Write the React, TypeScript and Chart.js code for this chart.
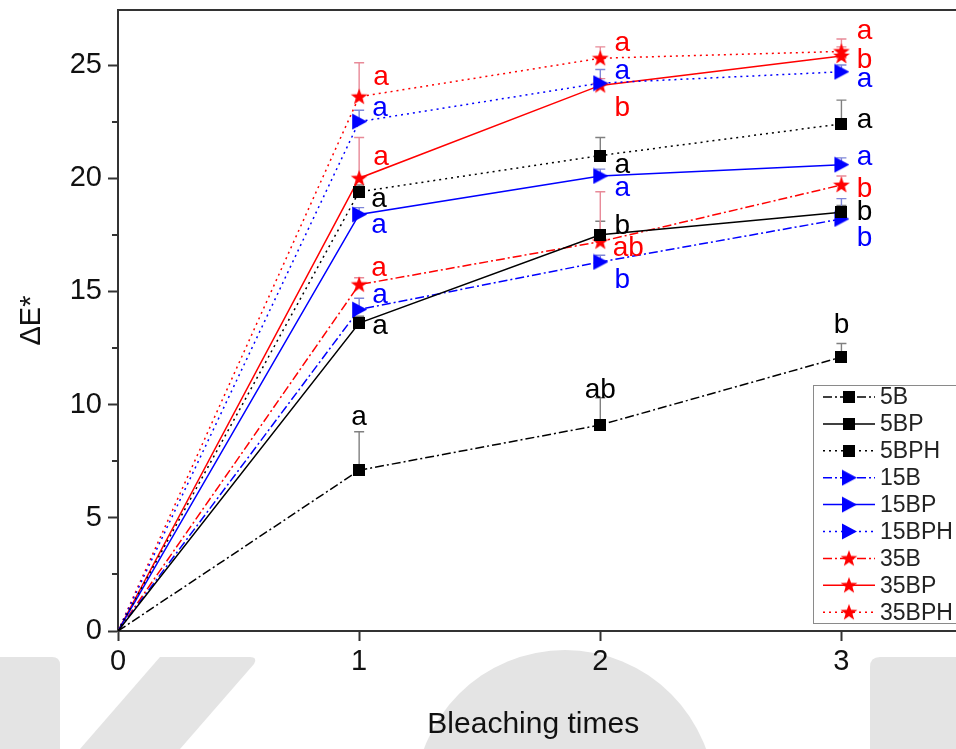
import React, { useEffect, useRef } from 'react';
import { Chart, registerables } from 'chart.js';

Chart.register(...registerables);

// ---------- data ----------
const xValues = [0, 1, 2, 3];
const seriesNames = ['5B', '5BP', '5BPH', '15B', '15BP', '15BPH', '35B', '35BP', '35BPH'];

const v5B = [0, 7.1, 9.1, 12.1];
const v5BP = [0, 13.6, 17.5, 18.5];
const v5BPH = [0, 19.4, 21.0, 22.4];
const v15B = [0, 14.2, 16.3, 18.2];
const v15BP = [0, 18.4, 20.1, 20.6];
const v15BPH = [0, 22.5, 24.2, 24.7];
const v35B = [0, 15.3, 17.2, 19.7];
const v35BP = [0, 20.0, 24.1, 25.4];
const v35BPH = [0, 23.6, 25.3, 25.6];

const e5B = [0, 1.7, 1.2, 0.6];
const e5BP = [0, 0.3, 0.6, 0.3];
const e5BPH = [0, 0.3, 0.8, 1.05];
const e15B = [0, 0.5, 0.3, 0.9];
const e15BP = [0, 0.3, 0.3, 0.3];
const e15BPH = [0, 0.5, 0.6, 0.3];
const e35B = [0, 0.3, 2.2, 0.4];
const e35BP = [0, 1.8, 0.3, 0.4];
const e35BPH = [0, 1.5, 0.5, 0.55];

const l5B = ['', 'a', 'ab', 'b'];
const l5BP = ['', 'a', 'b', 'b'];
const l5BPH = ['', 'a', 'a', 'a'];
const l15B = ['', 'a', 'b', 'b'];
const l15BP = ['', 'a', 'a', 'a'];
const l15BPH = ['', 'a', 'a', 'a'];
const l35B = ['', 'a', 'ab', 'b'];
const l35BP = ['', 'a', 'b', 'b'];
const l35BPH = ['', 'a', 'a', 'a'];

const yMajorTicks = [0, 5, 10, 15, 20, 25];
const yMinorTicks = [2.5, 7.5, 12.5, 17.5, 22.5];
const xTicks = [0, 1, 2, 3];

const xTitle = 'Bleaching times';
const yTitle = 'ΔE*';

// ---------- styles ----------
const FONT = "'Liberation Sans', Arial, sans-serif";
const BLACK = '#000000';
const BLUE = '#0000ff';
const RED = '#ff0000';
const ERR_BLACK = '#808080';
const ERR_BLUE = '#7f86d8';
const ERR_RED = '#e88a98';
const DASHDOT = [9, 3, 2, 3];
const DOT = [2, 4];
const SOLID: number[] = [];

// label offsets (px) relative to the marker, indices 1..3
const off5B = [[0, 0], [0, -53], [0, -37], [0, -34]];
const off5BP = [[0, 0], [21, 4], [22, -11], [23, -2]];
const off5BPH = [[0, 0], [20, 8], [22, 10], [23, -3]];
const off15B = [[0, 0], [21, -14], [22, 16], [23, 17]];
const off15BP = [[0, 0], [20, 11], [22, 13], [23, -7]];
const off15BPH = [[0, 0], [21, -13], [22, -11], [23, 8]];
const off35B = [[0, 0], [20, -16], [28, 4], [23, 2]];
const off35BP = [[0, 0], [22, -20], [22, 21], [23, 2]];
const off35BPH = [[0, 0], [22, -19], [22, -15], [23, -20]];

function makeMarker(kind: string, color: string): HTMLCanvasElement {
  const c = document.createElement('canvas');
  const g = c.getContext('2d') as CanvasRenderingContext2D;
  if (kind === 'square') {
    c.width = 12; c.height = 12;
    g.fillStyle = color;
    g.fillRect(0, 0, 12, 12);
  } else if (kind === 'triangle') {
    c.width = 16; c.height = 17;
    g.fillStyle = color;
    g.beginPath();
    g.moveTo(1, 0.5);
    g.lineTo(16, 8.5);
    g.lineTo(1, 16.5);
    g.closePath();
    g.fill();
  } else {
    c.width = 18; c.height = 18;
    g.fillStyle = color;
    g.beginPath();
    const cx = 9, cy = 9.5, R = 8.8, r = 3.6;
    for (let i = 0; i < 10; i++) {
      const ang = -Math.PI / 2 + (i * Math.PI) / 5;
      const rad = i % 2 === 0 ? R : r;
      const px = cx + rad * Math.cos(ang);
      const py = cy + rad * Math.sin(ang);
      if (i === 0) g.moveTo(px, py); else g.lineTo(px, py);
    }
    g.closePath();
    g.fill();
  }
  return c;
}

export default function App() {
  const ref = useRef<HTMLCanvasElement>(null);

  useEffect(() => {
    document.body.style.margin = '0';
    const canvas = ref.current;
    if (!canvas) return;

    const square = makeMarker('square', BLACK);
    const tri = makeMarker('triangle', BLUE);
    const star = makeMarker('star', RED);

    const series = [
      { name: seriesNames[0], v: v5B, e: e5B, l: l5B, off: off5B, color: BLACK, err: ERR_BLACK, dash: DASHDOT, marker: square },
      { name: seriesNames[1], v: v5BP, e: e5BP, l: l5BP, off: off5BP, color: BLACK, err: ERR_BLACK, dash: SOLID, marker: square },
      { name: seriesNames[2], v: v5BPH, e: e5BPH, l: l5BPH, off: off5BPH, color: BLACK, err: ERR_BLACK, dash: DOT, marker: square },
      { name: seriesNames[3], v: v15B, e: e15B, l: l15B, off: off15B, color: BLUE, err: ERR_BLUE, dash: DASHDOT, marker: tri },
      { name: seriesNames[4], v: v15BP, e: e15BP, l: l15BP, off: off15BP, color: BLUE, err: ERR_BLUE, dash: SOLID, marker: tri },
      { name: seriesNames[5], v: v15BPH, e: e15BPH, l: l15BPH, off: off15BPH, color: BLUE, err: ERR_BLUE, dash: DOT, marker: tri },
      { name: seriesNames[6], v: v35B, e: e35B, l: l35B, off: off35B, color: RED, err: ERR_RED, dash: DASHDOT, marker: star },
      { name: seriesNames[7], v: v35BP, e: e35BP, l: l35BP, off: off35BP, color: RED, err: ERR_RED, dash: SOLID, marker: star },
      { name: seriesNames[8], v: v35BPH, e: e35BPH, l: l35BPH, off: off35BPH, color: RED, err: ERR_RED, dash: DOT, marker: star },
    ];

    const overlay = {
      id: 'overlay',
      beforeDraw(chart: any) {
        const ctx = chart.ctx as CanvasRenderingContext2D;
        ctx.save();
        ctx.fillStyle = '#ffffff';
        ctx.fillRect(0, 0, chart.width, chart.height);
        // watermark shapes
        ctx.fillStyle = '#e4e4e4';
        ctx.beginPath();
        ctx.moveTo(0, 657);
        ctx.lineTo(52, 657);
        ctx.quadraticCurveTo(60, 657, 60, 665);
        ctx.lineTo(60, 749);
        ctx.lineTo(0, 749);
        ctx.closePath();
        ctx.fill();
        ctx.beginPath();
        ctx.moveTo(160, 657);
        ctx.lineTo(250, 657);
        ctx.quadraticCurveTo(258, 657, 254, 664);
        ctx.lineTo(180, 749);
        ctx.lineTo(80, 749);
        ctx.closePath();
        ctx.fill();
        ctx.beginPath();
        ctx.arc(565, 800, 150, 0, Math.PI * 2);
        ctx.fill();
        ctx.beginPath();
        ctx.moveTo(870, 749);
        ctx.lineTo(870, 667);
        ctx.quadraticCurveTo(870, 657, 880, 657);
        ctx.lineTo(956, 657);
        ctx.lineTo(956, 749);
        ctx.closePath();
        ctx.fill();
        ctx.restore();
      },
      beforeDatasetsDraw(chart: any) {
        const ctx = chart.ctx as CanvasRenderingContext2D;
        const ys = chart.scales.y;
        ctx.save();
        ctx.lineWidth = 1.4;
        series.forEach((s, i) => {
          const meta = chart.getDatasetMeta(i);
          ctx.strokeStyle = s.err;
          for (let j = 1; j < s.v.length; j++) {
            const pt = meta.data[j];
            const yTop = ys.getPixelForValue(s.v[j] + s.e[j]);
            ctx.beginPath();
            ctx.moveTo(pt.x, pt.y);
            ctx.lineTo(pt.x, yTop);
            ctx.moveTo(pt.x - 5, yTop);
            ctx.lineTo(pt.x + 5, yTop);
            ctx.stroke();
          }
        });
        ctx.restore();
      },
      afterDatasetsDraw(chart: any) {
        const ctx = chart.ctx as CanvasRenderingContext2D;
        const area = chart.chartArea;
        const ys = chart.scales.y;
        ctx.save();
        // letter labels
        const fs = 28;
        ctx.font = `${fs}px ${FONT}`;
        ctx.textAlign = 'center';
        ctx.textBaseline = 'alphabetic';
        series.forEach((s, i) => {
          const meta = chart.getDatasetMeta(i);
          ctx.fillStyle = s.color;
          for (let j = 1; j < s.v.length; j++) {
            const txt = s.l[j];
            if (!txt) continue;
            const pt = meta.data[j];
            const cx = pt.x + s.off[j][0];
            const cy = pt.y + s.off[j][1];
            const asc = /[bdfhklt]/.test(txt) ? 0.36 : 0.26;
            ctx.fillText(txt, cx, cy + asc * fs);
          }
        });
        // top frame and continuation of the bottom axis to the image edge
        ctx.strokeStyle = '#333333';
        ctx.lineWidth = 2;
        ctx.beginPath();
        ctx.moveTo(area.left - 1, area.top);
        ctx.lineTo(chart.width, area.top);
        ctx.moveTo(area.right - 1, area.bottom);
        ctx.lineTo(chart.width, area.bottom);
        ctx.stroke();
        // minor y ticks
        ctx.beginPath();
        yMinorTicks.forEach((t) => {
          const py = Math.round(ys.getPixelForValue(t));
          ctx.moveTo(area.left - 6, py);
          ctx.lineTo(area.left, py);
        });
        ctx.stroke();
        // legend
        const lx = 813, ly = 385, lw = 150, lh = 238;
        ctx.fillStyle = '#ffffff';
        ctx.fillRect(lx, ly, lw, lh);
        ctx.strokeStyle = '#8a8a8a';
        ctx.lineWidth = 1;
        ctx.strokeRect(lx + 0.5, ly + 0.5, lw, lh);
        ctx.font = `23px ${FONT}`;
        ctx.textAlign = 'left';
        ctx.textBaseline = 'middle';
        series.forEach((s, i) => {
          const ry = 397 + i * 26.9;
          ctx.strokeStyle = s.color;
          ctx.lineWidth = 1.5;
          ctx.setLineDash(s.dash);
          ctx.beginPath();
          ctx.moveTo(823, ry);
          ctx.lineTo(875, ry);
          ctx.stroke();
          ctx.setLineDash([]);
          const m = s.marker;
          ctx.drawImage(m, 849 - m.width / 2, ry - m.height / 2);
          ctx.fillStyle = '#222222';
          ctx.fillText(s.name, 880, ry + 1);
        });
        ctx.restore();
      },
    };

    const chart = new Chart(canvas, {
      type: 'line',
      data: {
        labels: xValues,
        datasets: series.map((s) => ({
          label: s.name,
          data: s.v.map((y, k) => ({ x: xValues[k], y })),
          borderColor: s.color,
          backgroundColor: s.color,
          borderWidth: 1.5,
          borderDash: s.dash,
          pointStyle: s.marker,
          pointRadius: (c: any) => (c.dataIndex === 0 ? 0 : 6),
          pointHoverRadius: 6,
          tension: 0,
          fill: false,
        })),
      },
      options: {
        animation: false,
        responsive: false,
        maintainAspectRatio: false,
        events: [],
        layout: { padding: { top: 10, right: 0, left: 0, bottom: 0 } },
        plugins: {
          legend: { display: false },
          tooltip: { enabled: false },
        },
        scales: {
          x: {
            type: 'linear',
            min: 0,
            max: 3.444,
            afterBuildTicks: (sc: any) => { sc.ticks = xTicks.map((v) => ({ value: v })); },
            afterFit: (sc: any) => {
              sc.height = 118;
              sc.paddingLeft = 0;
              sc.paddingRight = 0;
              sc.paddingTop = 0;
              sc.paddingBottom = 0;
            },
            ticks: {
              includeBounds: false,
              color: '#111111',
              font: { family: FONT, size: 29 },
              padding: 4,
              maxRotation: 0,
              autoSkip: false,
              callback: (v: any) => String(v),
            },
            grid: {
              drawOnChartArea: false,
              drawTicks: true,
              tickLength: 10,
              tickColor: '#333333',
              tickWidth: 2,
            },
            border: { display: true, color: '#333333', width: 2 },
            title: {
              display: true,
              text: xTitle,
              color: '#111111',
              font: { family: FONT, size: 30 },
              padding: { top: 0, bottom: 6 },
            },
          },
          y: {
            type: 'linear',
            min: 0,
            max: 27.43,
            afterBuildTicks: (sc: any) => { sc.ticks = yMajorTicks.map((v) => ({ value: v })); },
            afterFit: (sc: any) => {
              sc.width = 118;
              sc.paddingLeft = 0;
              sc.paddingRight = 0;
              sc.paddingTop = 0;
              sc.paddingBottom = 0;
            },
            ticks: {
              includeBounds: false,
              color: '#111111',
              font: { family: FONT, size: 29 },
              padding: 6,
              autoSkip: false,
              callback: (v: any) => String(v),
            },
            grid: {
              drawOnChartArea: false,
              drawTicks: true,
              tickLength: 10,
              tickColor: '#333333',
              tickWidth: 2,
            },
            border: { display: true, color: '#333333', width: 2 },
            title: {
              display: true,
              text: yTitle,
              color: '#111111',
              font: { family: FONT, size: 29 },
              padding: { top: 15, bottom: 0 },
            },
          },
        },
      },
      plugins: [overlay],
    } as any);

    return () => chart.destroy();
  }, []);

  return (
    <div style={{ position: 'fixed', left: 0, top: 0, width: 956, height: 749, background: '#fff' }}>
      <canvas ref={ref} width={956} height={749} style={{ width: 956, height: 749, display: 'block' }} />
    </div>
  );
}
